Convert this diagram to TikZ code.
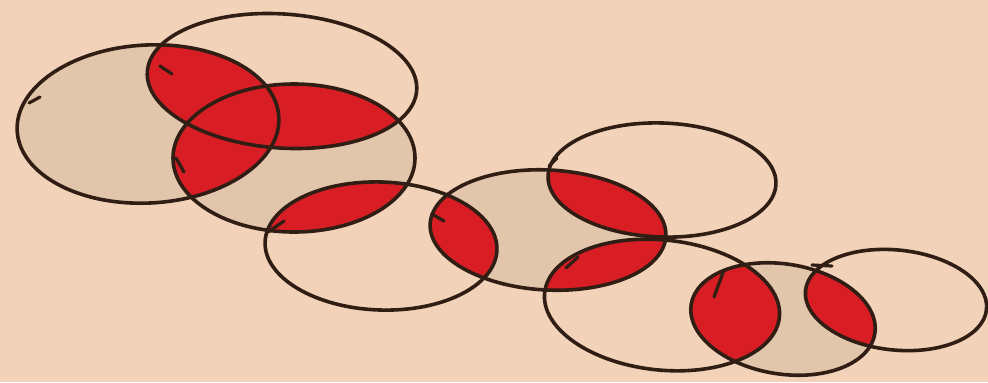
\documentclass[tikz,border=0pt]{standalone}
\definecolor{bg}{RGB}{242,211,186}
\definecolor{greyfill}{RGB}{226,198,172}
\definecolor{lobe}{RGB}{216,30,36}
\definecolor{ink}{RGB}{48,30,20}
\begin{document}
\begin{tikzpicture}[x=0.5pt,y=-0.5pt,
  e1/.style={shift={(148,124)},rotate=3,x radius=131,y radius=79},
  e2/.style={shift={(282,81)},rotate=-4,x radius=135,y radius=67},
  e3/.style={shift={(294,158)},rotate=0,x radius=121,y radius=74},
  e4/.style={shift={(381,246)},rotate=-2,x radius=116,y radius=64},
  e5/.style={shift={(548,230)},rotate=-3,x radius=118,y radius=60},
  e6/.style={shift={(662,180)},rotate=-2,x radius=114,y radius=57},
  e7/.style={shift={(662,305)},rotate=-6,x radius=118,y radius=65},
  e8/.style={shift={(783,319)},rotate=-9,x radius=93,y radius=55},
  e9/.style={shift={(896,300)},rotate=-6,x radius=91,y radius=50},
  outline/.style={draw=ink,line width=1.8pt},
  hook/.style={draw=ink,line width=1.6pt,line cap=round}]
\fill[bg] (0,0) rectangle (988,382);
\useasboundingbox (0,0) rectangle (988,382);
% grey ellipses
\foreach \e in {e1,e3,e5,e8} \fill[greyfill,\e] (0,0) ellipse;
% red overlaps
\foreach \a/\b in {e1/e2,e1/e3,e2/e3,e3/e4,e4/e5,e5/e6,e5/e7,e7/e8,e8/e9}{
  \begin{scope}
    \clip[\a] (0,0) ellipse;
    \fill[lobe,\b] (0,0) ellipse;
  \end{scope}
}
% outlines
\foreach \e in {e1,e2,e3,e4,e5,e6,e7,e8,e9} \path[outline,\e] (0,0) ellipse;
% pen-start hooks
\coordinate (h1a) at (29,103); \coordinate (h1b) at (40,97);
\coordinate (h2a) at (160,66); \coordinate (h2b) at (172,74);
\coordinate (h3a) at (176,158); \coordinate (h3b) at (184,172);
\coordinate (h4a) at (268,232); \coordinate (h4b) at (284,221);
\coordinate (h5a) at (432,214); \coordinate (h5b) at (444,221);
\coordinate (h6a) at (549,166); \coordinate (h6b) at (557,158);
\coordinate (h7a) at (566,268); \coordinate (h7b) at (578,257);
\coordinate (h8a) at (714,297); \coordinate (h8b) at (724,270);
\coordinate (h9a) at (812,265); \coordinate (h9b) at (832,266);
\foreach \h in {1,...,9} \path[hook] (h\h a) -- (h\h b);
\end{tikzpicture}
\end{document}
